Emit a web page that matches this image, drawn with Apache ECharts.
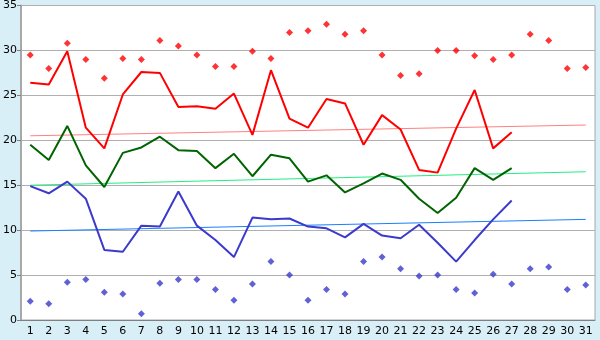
<!DOCTYPE html>
<html>
<head>
<meta charset="utf-8">
<script src="https://cdn.jsdelivr.net/npm/echarts@6/dist/echarts.min.js"></script>
<style>
  html, body { margin: 0; padding: 0; background: #d9eff7; }
  #chart { width: 600px; height: 340px; }
</style>
</head>
<body>
<div id="chart"></div>
<script>
var days = [];
for (var i = 1; i <= 31; i++) days.push(String(i));

// 日最高（点）
var maxPts = [29.5, 28.0, 30.8, 29.0, 26.9, 29.1, 29.0, 31.1, 30.5, 29.5,
              28.2, 28.2, 29.9, 29.1, 32.0, 32.2, 32.9, 31.8, 32.2, 29.5,
              27.2, 27.4, 30.0, 30.0, 29.4, 29.0, 29.5, 31.8, 31.1, 28.0, 28.1];
// 日最低（点）
var minPts = [2.1, 1.8, 4.2, 4.5, 3.1, 2.9, 0.7, 4.1, 4.5, 4.5,
              3.4, 2.2, 4.0, 6.5, 5.0, 2.2, 3.4, 2.9, 6.5, 7.0,
              5.7, 4.9, 5.0, 3.4, 3.0, 5.1, 4.0, 5.7, 5.9, 3.4, 3.9];
// 折线
var highLine = [26.4, 26.2, 29.9, 21.4, 19.1, 25.1, 27.6, 27.5, 23.7, 23.8,
                23.5, 25.2, 20.6, 27.8, 22.4, 21.4, 24.6, 24.1, 19.5, 22.8,
                21.2, 16.7, 16.4, 21.3, 25.6, 19.1, 20.9];
var avgLine = [19.5, 17.8, 21.6, 17.2, 14.8, 18.6, 19.2, 20.4, 18.9, 18.8,
               16.9, 18.5, 16.0, 18.4, 18.0, 15.4, 16.1, 14.2, 15.2, 16.3,
               15.6, 13.5, 11.9, 13.6, 16.9, 15.6, 16.9];
var lowLine = [14.9, 14.1, 15.4, 13.5, 7.8, 7.6, 10.5, 10.4, 14.3, 10.5,
               8.9, 7.0, 11.4, 11.2, 11.3, 10.4, 10.2, 9.2, 10.7, 9.4,
               9.1, 10.6, 8.6, 6.5, 8.9, 11.2, 13.3];
// 趋势线（首、末）
var highTrend = [20.5, 21.7];
var avgTrend = [15.0, 16.5];
var lowTrend = [9.9, 11.2];

function trend(ends) {
    var arr = [];
    for (var i = 0; i < 31; i++) arr.push(null);
    arr[0] = ends[0];
    arr[30] = ends[1];
    return arr;
}

var chart = echarts.init(document.getElementById('chart'));
var option = {
    backgroundColor: '#d9eff7',
    animation: false,
    grid: {
        left: 20,
        right: 5,
        top: 5,
        bottom: 20,
        show: true,
        backgroundColor: '#fff',
        borderColor: '#a8a8a8',
        borderWidth: 1
    },
    xAxis: {
        type: 'category',
        data: days,
        boundaryGap: true,
        axisLine: { lineStyle: { color: '#808080' } },
        axisTick: { alignWithLabel: true, length: 5, lineStyle: { color: '#000' } },
        axisLabel: { color: '#000', fontSize: 11, fontFamily: 'DejaVu Sans', interval: 0, margin: 6 },
        splitLine: { show: false }
    },
    yAxis: {
        type: 'value',
        min: 0,
        max: 35,
        interval: 5,
        axisLine: { show: true, lineStyle: { color: '#a8a8a8', width: 2 } },
        axisTick: { show: true, length: 4, lineStyle: { color: '#808080' } },
        axisLabel: { color: '#000', fontSize: 11, fontFamily: 'DejaVu Sans', margin: 4 },
        splitLine: { lineStyle: { color: '#b0b0b0', width: 1 } }
    },
    series: [
        { type: 'line', data: trend(highTrend), connectNulls: true, symbol: 'none',
          lineStyle: { color: '#ff8080', width: 1 } },
        { type: 'line', data: trend(avgTrend), connectNulls: true, symbol: 'none',
          lineStyle: { color: '#22ee80', width: 1 } },
        { type: 'line', data: trend(lowTrend), connectNulls: true, symbol: 'none',
          lineStyle: { color: '#1a7fff', width: 1 } },
        { type: 'line', data: highLine, symbol: 'none',
          lineStyle: { color: '#ff0000', width: 2 } },
        { type: 'line', data: avgLine, symbol: 'none',
          lineStyle: { color: '#006400', width: 2 } },
        { type: 'line', data: lowLine, symbol: 'none',
          lineStyle: { color: '#3a3acc', width: 2 } },
        { type: 'scatter', data: maxPts, symbol: 'diamond', symbolSize: 7,
          itemStyle: { color: '#ff0000' } },
        { type: 'scatter', data: minPts, symbol: 'diamond', symbolSize: 7,
          itemStyle: { color: '#3a3acc' } }
    ]
};
chart.setOption(option);
</script>
</body>
</html>
